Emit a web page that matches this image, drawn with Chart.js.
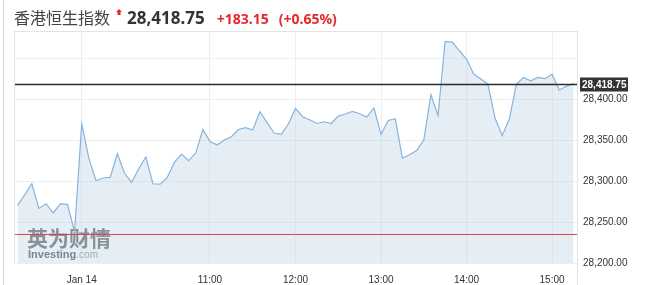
<!DOCTYPE html>
<html>
<head>
<meta charset="utf-8">
<script src="https://cdn.jsdelivr.net/npm/chart.js@4/dist/chart.umd.min.js"></script>
<style>
  body { margin: 0; background: #fff; }
  #wrap { position: relative; width: 647px; height: 285px; overflow: hidden; }
  #frame { position: absolute; left: 3px; top: 0; width: 1px; height: 285px; background: #d2d2d2; }
  #title { position: absolute; left: 14px; top: 5px; white-space: nowrap; font-family: "Noto Sans", "Noto Sans CJK SC", sans-serif; line-height: 24px; }
  #title .name { font-family: "Noto Sans CJK SC", sans-serif; font-size: 16px; color: #444; }
  #title .price { font-size: 17px; font-weight: bold; color: #333; margin-left: 5px; }
  #title .chg { font-size: 14px; font-weight: bold; color: #e8262b; margin-left: 12px; }
  #title .pct { font-size: 14px; font-weight: bold; color: #e8262b; margin-left: 10px; }
  #title svg { margin-left: 6px; vertical-align: 9px; }
  canvas { position: absolute; left: 0; top: 0; }
</style>
</head>
<body>
<div id="wrap">
  <div id="frame"></div>
  <canvas id="chart" width="647" height="285"></canvas>
  <div id="title"><span class="name">香港恒生指数</span><svg width="6" height="6" viewBox="0 0 6 6"><polygon points="3,0 6,3 4.5,3 4.5,6 1.5,6 1.5,3 0,3" fill="#e8262b"/></svg><span class="price">28,418.75</span><span class="chg">+183.15</span><span class="pct">(+0.65%)</span></div>
</div>
<script>
const LAST_PRICE = 28418.75;
const PREV_CLOSE = 28235.60;

// 5 minute bars, first one at 08:45
const START_MINUTE = 8 * 60 + 45;
const prices = [
  28270.2, 28283.3, 28296.7, 28266.6, 28272.3, 28261.0, 28272.0, 28271.5, 28238.2, 28369.9,
  28328.0, 28300.4, 28303.7, 28304.4, 28333.3, 28309.8, 28298.3, 28315.0, 28329.3, 28296.7,
  28296.1, 28304.4, 28322.7, 28332.9, 28324.8, 28334.1, 28362.9, 28348.3, 28343.9, 28350.0,
  28354.0, 28362.9, 28365.0, 28362.2, 28384.5, 28371.5, 28358.5, 28356.8, 28369.5, 28388.5,
  28378.4, 28374.8, 28370.2, 28372.3, 28370.2, 28379.3, 28381.7, 28384.9, 28382.1, 28378.0,
  28389.0, 28356.8, 28373.9, 28376.0, 28328.0, 28332.1, 28337.3, 28350.0, 28405.2, 28380.0,
  28470.2, 28469.5, 28458.9, 28448.8, 28430.5, 28424.4, 28418.3, 28376.8, 28355.2, 28375.6,
  28418.3, 28426.3, 28422.3, 28426.3, 28424.8, 28430.5, 28411.0, 28415.4, 28418.75
];

const times = prices.map((p, i) => {
  const m = START_MINUTE + i * 5;
  return String(Math.floor(m / 60)).padStart(2, '0') + ':' + String(m % 60).padStart(2, '0');
});

const xTickTimes = ['09:30', '11:00', '12:00', '13:00', '14:00', '15:00'];
const xTickLabels = ['Jan 14', '11:00', '12:00', '13:00', '14:00', '15:00'];
const yTicks = [28200, 28250, 28300, 28350, 28400, 28450];
const yLabelled = [28200, 28250, 28300, 28350, 28400];
const Y_MIN = 28200;
const Y_MAX = 28483;

function fmt(v) {
  return v.toLocaleString('en-US', { minimumFractionDigits: 2, maximumFractionDigits: 2 });
}

// watermark under the line
const watermark = {
  id: 'watermark',
  beforeDatasetsDraw(chart) {
    const ctx = chart.ctx;
    ctx.save();
    ctx.textBaseline = 'alphabetic';
    ctx.fillStyle = '#6e7073';
    ctx.font = 'bold 21px "Noto Sans CJK SC"';
    ctx.fillText('英为财情', 27, 246);
    ctx.font = 'bold 11px "Liberation Sans", Arial';
    ctx.fillStyle = '#5a5c60';
    ctx.fillText('Investing', 28, 258);
    const w = ctx.measureText('Investing').width;
    ctx.font = '10px "Liberation Sans", Arial';
    ctx.fillStyle = '#9a9a9a';
    ctx.fillText('.com', 28 + w, 258);
    ctx.restore();
  }
};

// last price / previous close lines, price tag and frame
const overlay = {
  id: 'overlay',
  afterDatasetsDraw(chart) {
    const { ctx, chartArea: a, scales: { y } } = chart;
    ctx.save();
    const yc = Math.round(y.getPixelForValue(PREV_CLOSE)) + 0.5;
    ctx.strokeStyle = '#d9474a';
    ctx.lineWidth = 1;
    ctx.beginPath(); ctx.moveTo(a.left, yc); ctx.lineTo(a.right, yc); ctx.stroke();

    const yl = Math.round(y.getPixelForValue(LAST_PRICE)) + 0.5;
    ctx.strokeStyle = '#2b2b2b';
    ctx.lineWidth = 1.3;
    ctx.beginPath(); ctx.moveTo(a.left, yl); ctx.lineTo(a.right, yl); ctx.stroke();

    ctx.strokeStyle = '#e3e3e3';
    ctx.lineWidth = 1;
    ctx.beginPath();
    ctx.moveTo(a.left + 0.5, a.bottom); ctx.lineTo(a.left + 0.5, a.top + 0.5);
    ctx.lineTo(a.right + 0.5, a.top + 0.5); ctx.lineTo(a.right + 0.5, chart.height);
    ctx.stroke();

    ctx.fillStyle = '#333';
    ctx.fillRect(a.right + 3, yl - 7, 48, 14);
    ctx.fillStyle = '#fff';
    ctx.font = 'bold 10px "Liberation Sans", Arial';
    ctx.textBaseline = 'middle';
    ctx.fillText(fmt(LAST_PRICE), a.right + 5, yl + 0.5);
    ctx.restore();
  }
};

new Chart(document.getElementById('chart'), {
  type: 'line',
  data: {
    labels: times,
    datasets: [{
      data: prices,
      borderColor: '#86b4de',
      borderWidth: 1.2,
      backgroundColor: 'rgba(180, 205, 225, 0.35)',
      fill: 'start',
      pointRadius: 0,
      tension: 0
    }]
  },
  options: {
    responsive: false,
    animation: false,
    layout: { padding: { left: 14, top: 31, right: 0, bottom: 0 } },
    plugins: { legend: { display: false }, tooltip: { enabled: false } },
    scales: {
      x: {
        type: 'category',
        offset: true,
        afterFit(scale) { scale.height = 22; },
        border: { display: false },
        grid: {
          offset: false,
          drawTicks: false,
          color: (c) => xTickTimes.includes(times[c.index]) ? '#eceef0' : 'transparent'
        },
        ticks: {
          autoSkip: false,
          maxRotation: 0,
          padding: 11,
          color: '#333',
          font: { family: '"Liberation Sans", Arial', size: 10 },
          callback: (v, i) => {
            const k = xTickTimes.indexOf(times[i]);
            return k >= 0 ? xTickLabels[k] : '';
          }
        }
      },
      y: {
        position: 'right',
        min: Y_MIN,
        max: Y_MAX,
        afterFit(scale) { scale.width = 70; },
        afterBuildTicks(scale) { scale.ticks = yTicks.map(v => ({ value: v })); },
        border: { display: false },
        grid: { drawTicks: false, color: '#eceef0' },
        ticks: {
          padding: 6,
          color: '#333',
          font: { family: '"Liberation Sans", Arial', size: 10 },
          callback: (v) => yLabelled.includes(v) ? fmt(v) : ''
        }
      }
    }
  },
  plugins: [watermark, overlay]
});
</script>
</body>
</html>
